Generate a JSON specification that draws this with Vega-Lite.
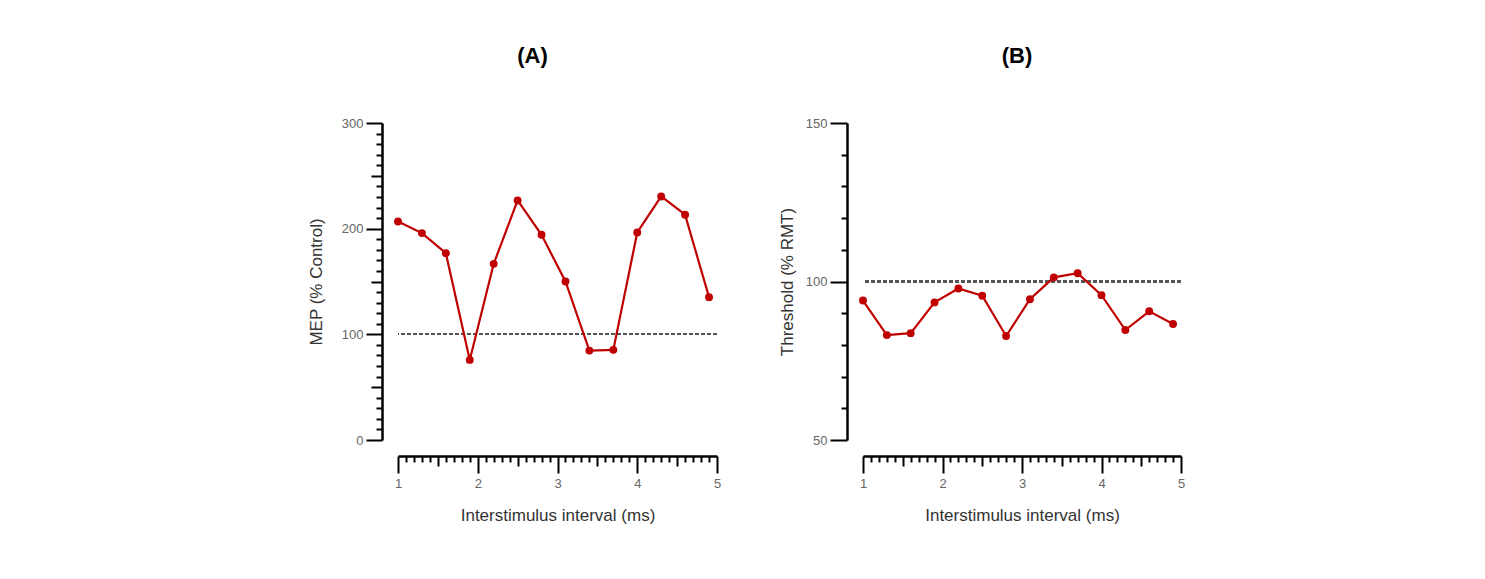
{
  "$schema": "https://vega.github.io/schema/vega-lite/v6.json",
  "background": "white",
  "padding": {"left": 307, "top": 45, "right": 5, "bottom": 5},
  "datasets": {
    "A": [
      {"isi": 1.0, "mep": 206.8},
      {"isi": 1.3, "mep": 195.8},
      {"isi": 1.6, "mep": 176.8},
      {"isi": 1.9, "mep": 75.8},
      {"isi": 2.2, "mep": 166.7},
      {"isi": 2.5, "mep": 226.7},
      {"isi": 2.8, "mep": 194.2},
      {"isi": 3.1, "mep": 150.0},
      {"isi": 3.4, "mep": 84.6},
      {"isi": 3.7, "mep": 85.3},
      {"isi": 4.0, "mep": 196.4},
      {"isi": 4.3, "mep": 230.5},
      {"isi": 4.6, "mep": 213.2},
      {"isi": 4.9, "mep": 135.2}
    ],
    "B": [
      {"isi": 1.0, "thr": 94.0},
      {"isi": 1.3, "thr": 83.1},
      {"isi": 1.6, "thr": 83.7},
      {"isi": 1.9, "thr": 93.4},
      {"isi": 2.2, "thr": 97.8},
      {"isi": 2.5, "thr": 95.5},
      {"isi": 2.8, "thr": 82.8},
      {"isi": 3.1, "thr": 94.4},
      {"isi": 3.4, "thr": 101.3},
      {"isi": 3.7, "thr": 102.6},
      {"isi": 4.0, "thr": 95.7},
      {"isi": 4.3, "thr": 84.7},
      {"isi": 4.6, "thr": 90.6},
      {"isi": 4.9, "thr": 86.6}
    ]
  },
  "spacing": 57,
  "config": {
    "view": {"stroke": null},
    "font": "Liberation Sans",
    "axis": {
      "grid": false,
      "domainColor": "black",
      "domainWidth": 2.5,
      "tickColor": "black",
      "tickWidth": 2,
      "tickCount": 100,
      "labelFont": "Liberation Sans",
      "labelFontSize": 13,
      "labelColor": "#666666",
      "titleFont": "Liberation Sans",
      "titleFontSize": 17,
      "titleFontWeight": "normal",
      "titleColor": "#333333",
      "offset": 16
    },
    "title": {"font": "Liberation Sans", "fontSize": 22, "fontWeight": "bold", "color": "black", "frame": "group", "anchor": "middle"}
  },
  "hconcat": [
    {
      "width": 319,
      "height": 317,
      "title": {"text": "(A)", "dx": -25, "offset": 49},
      "data": {"name": "A"},
      "layer": [
        {
          "mark": {"type": "rule", "color": "#555555", "strokeWidth": 1.5, "strokeDash": [4, 2]},
          "encoding": {"y": {"datum": 100, "type": "quantitative"}}
        },
        {
          "mark": {"type": "line", "color": "#c00000", "strokeWidth": 2.2, "point": {"filled": true, "size": 62, "color": "#c00000", "opacity": 1}},
          "encoding": {
            "x": {
              "field": "isi", "type": "quantitative",
              "scale": {"domain": [1, 5], "nice": false, "zero": false},
              "axis": {
                "title": "Interstimulus interval (ms)",
                "values": [1,1.1,1.2,1.3,1.4,1.5,1.6,1.7,1.8,1.9,2,2.1,2.2,2.3,2.4,2.5,2.6,2.7,2.8,2.9,3,3.1,3.2,3.3,3.4,3.5,3.6,3.7,3.8,3.9,4,4.1,4.2,4.3,4.4,4.5,4.6,4.7,4.8,4.9,5],
                "labelExpr": "abs(datum.value - round(datum.value)) < 0.01 ? format(datum.value, 'd') : ''",
                "tickSize": {"condition": [{"test": "abs(datum.value - round(datum.value)) < 0.01", "value": 17}, {"test": "abs(datum.value * 2 - round(datum.value * 2)) < 0.01", "value": 10}], "value": 6},
                "labelPadding": 4,
                "labelFlush": false,
                "labelOverlap": false,
                "titlePadding": 17
              }
            },
            "y": {
              "field": "mep", "type": "quantitative",
              "scale": {"domain": [0, 300], "nice": false},
              "axis": {
                "title": "MEP (% Control)",
                "values": [0,10,20,30,40,50,60,70,80,90,100,110,120,130,140,150,160,170,180,190,200,210,220,230,240,250,260,270,280,290,300],
                "labelExpr": "datum.value % 100 === 0 ? datum.label : ''",
                "tickSize": {"condition": [{"test": "datum.value % 100 === 0", "value": 16}, {"test": "datum.value % 50 === 0", "value": 11}], "value": 6},
                "labelPadding": 3,
                "labelOverlap": false,
                "titlePadding": 16
              }
            }
          }
        }
      ]
    },
    {
      "width": 318,
      "height": 317,
      "title": {"text": "(B)", "dx": -5, "offset": 49},
      "data": {"name": "B"},
      "layer": [
        {
          "mark": {"type": "rule", "color": "#555555", "strokeWidth": 1.5, "strokeDash": [4, 2]},
          "encoding": {"y": {"datum": 100, "type": "quantitative"}}
        },
        {
          "mark": {"type": "line", "color": "#c00000", "strokeWidth": 2.2, "point": {"filled": true, "size": 62, "color": "#c00000", "opacity": 1}},
          "encoding": {
            "x": {
              "field": "isi", "type": "quantitative",
              "scale": {"domain": [1, 5], "nice": false, "zero": false},
              "axis": {
                "title": "Interstimulus interval (ms)",
                "values": [1,1.1,1.2,1.3,1.4,1.5,1.6,1.7,1.8,1.9,2,2.1,2.2,2.3,2.4,2.5,2.6,2.7,2.8,2.9,3,3.1,3.2,3.3,3.4,3.5,3.6,3.7,3.8,3.9,4,4.1,4.2,4.3,4.4,4.5,4.6,4.7,4.8,4.9,5],
                "labelExpr": "abs(datum.value - round(datum.value)) < 0.01 ? format(datum.value, 'd') : ''",
                "tickSize": {"condition": [{"test": "abs(datum.value - round(datum.value)) < 0.01", "value": 17}, {"test": "abs(datum.value * 2 - round(datum.value * 2)) < 0.01", "value": 10}], "value": 6},
                "labelPadding": 4,
                "labelFlush": false,
                "labelOverlap": false,
                "titlePadding": 17
              }
            },
            "y": {
              "field": "thr", "type": "quantitative",
              "scale": {"domain": [50, 150], "nice": false, "zero": false},
              "axis": {
                "title": "Threshold (% RMT)",
                "values": [50,60,70,80,90,100,110,120,130,140,150],
                "labelExpr": "datum.value % 50 === 0 ? datum.label : ''",
                "tickSize": {"condition": {"test": "datum.value % 50 === 0", "value": 17}, "value": 6},
                "labelPadding": 3,
                "labelOverlap": false,
                "titlePadding": 9
              }
            }
          }
        }
      ]
    }
  ]
}
